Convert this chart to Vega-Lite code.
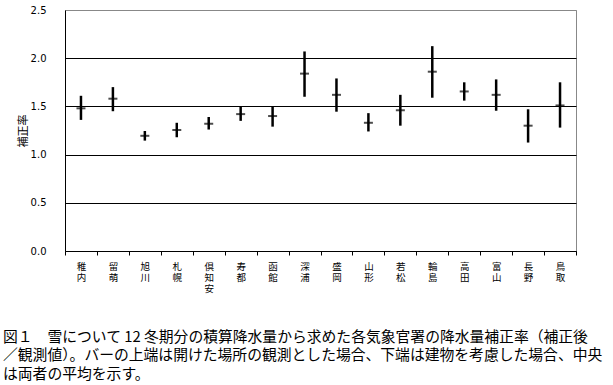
{
  "$schema": "https://vega.github.io/schema/vega-lite/v6.json",
  "width": 511,
  "height": 241,
  "autosize": {"type": "none"},
  "padding": {"left": 65, "top": 10, "right": 37, "bottom": 134},
  "background": "white",
  "config": {
    "view": {"stroke": "#888888", "strokeWidth": 1},
    "font": "Noto Sans CJK JP"
  },
  "title": {
    "text": ["図１　雪について 12 冬期分の積算降水量から求めた各気象官署の降水量補正率（補正後", "／観測値）。バーの上端は開けた場所の観測とした場合、下端は建物を考慮した場合、中央", "は両者の平均を示す。"],
    "orient": "bottom",
    "anchor": "start",
    "frame": "group",
    "align": "left",
    "dx": -62,
    "offset": 37,
    "font": "Noto Sans CJK JP",
    "fontSize": 14.8,
    "fontWeight": "normal",
    "lineHeight": 18.5,
    "color": "black",
    "baseline": "top"
  },
  "data": {
    "values": [
      {"station": "稚内", "low": 1.36, "high": 1.61, "mean": 1.48},
      {"station": "留萌", "low": 1.45, "high": 1.70, "mean": 1.58},
      {"station": "旭川", "low": 1.145, "high": 1.245, "mean": 1.195},
      {"station": "札幌", "low": 1.18, "high": 1.33, "mean": 1.255},
      {"station": "倶知安", "low": 1.26, "high": 1.39, "mean": 1.32},
      {"station": "寿都", "low": 1.35, "high": 1.50, "mean": 1.42},
      {"station": "函館", "low": 1.29, "high": 1.50, "mean": 1.40},
      {"station": "深浦", "low": 1.60, "high": 2.07, "mean": 1.84},
      {"station": "盛岡", "low": 1.445, "high": 1.79, "mean": 1.62},
      {"station": "山形", "low": 1.24, "high": 1.43, "mean": 1.33},
      {"station": "若松", "low": 1.30, "high": 1.62, "mean": 1.46},
      {"station": "輪島", "low": 1.59, "high": 2.125, "mean": 1.86},
      {"station": "高田", "low": 1.56, "high": 1.75, "mean": 1.655},
      {"station": "富山", "low": 1.455, "high": 1.78, "mean": 1.62},
      {"station": "長野", "low": 1.125, "high": 1.47, "mean": 1.30},
      {"station": "鳥取", "low": 1.28, "high": 1.75, "mean": 1.51}
    ]
  },
  "encoding": {
    "x": {
      "field": "station",
      "type": "nominal",
      "sort": null,
      "scale": {"type": "band", "paddingInner": 0, "paddingOuter": 0},
      "axis": {
        "title": null,
        "labelAngle": 0,
        "labelExpr": "split(datum.label, '')",
        "labelFont": "Noto Sans CJK JP",
        "labelFontSize": 9.5,
        "labelLineHeight": 11,
        "labelBaseline": "top",
        "labelAlign": "center",
        "labelPadding": 6,
        "labelColor": "black",
        "tickBand": "extent",
        "tickSize": 4,
        "tickColor": "black",
        "domainColor": "black",
        "grid": false
      }
    }
  },
  "layer": [
    {
      "mark": {"type": "rule", "color": "black", "strokeWidth": 2.5},
      "encoding": {
        "y": {
          "field": "low",
          "type": "quantitative",
          "scale": {"domain": [0, 2.5], "nice": false},
          "axis": {
            "title": "補正率",
            "titleFont": "Noto Sans CJK JP",
            "titleFontSize": 11,
            "titleFontWeight": "normal",
            "titleColor": "black",
            "titlePadding": 2,
            "values": [0, 0.5, 1, 1.5, 2, 2.5],
            "format": ".1f",
            "labelFont": "DejaVu Sans",
            "labelFontSize": 10,
            "labelColor": "black",
            "labelPadding": 19,
            "ticks": false,
            "domainColor": "black",
            "grid": true,
            "gridColor": {"condition": {"test": "datum.value >= 2.5", "value": "#888888"}, "value": "black"},
            "gridOpacity": 1,
            "gridWidth": 1
          }
        },
        "y2": {"field": "high"}
      }
    },
    {
      "mark": {"type": "tick", "color": "black", "thickness": 2, "size": 9, "orient": "horizontal"},
      "encoding": {
        "y": {"field": "mean", "type": "quantitative"}
      }
    }
  ]
}
